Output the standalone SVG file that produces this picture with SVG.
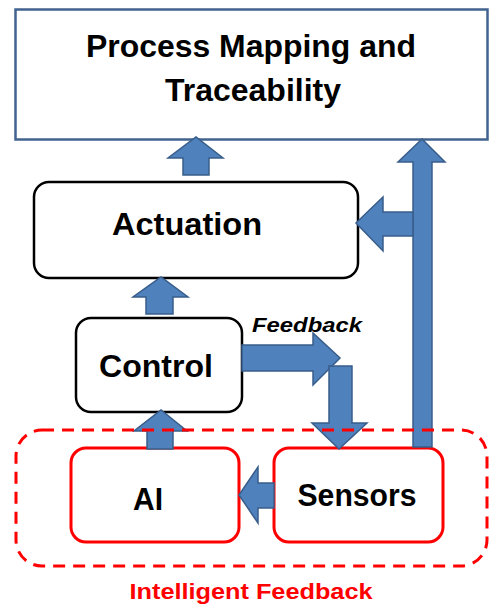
<svg xmlns="http://www.w3.org/2000/svg" width="489" height="608" viewBox="0 0 489 608">
<style>
text{font-family:"Liberation Sans",Arial,sans-serif;font-weight:bold;text-anchor:middle}
.t{font-size:31px;fill:#000}
.blk{fill:#fff;stroke:#000;stroke-width:2.5}
.red{fill:#fff;stroke:#ff0000;stroke-width:3}
.arr{fill:#4f81bd;stroke:#385d8a;stroke-width:1.5;stroke-linejoin:miter}
</style>
<rect width="489" height="608" fill="#fff"/>
<g id="process">
<rect x="15.5" y="9.5" width="472" height="130" fill="#fff" stroke="#41638f" stroke-width="2.5"/>
<text class="t" x="251" y="57" textLength="330" lengthAdjust="spacingAndGlyphs">Process Mapping and</text>
<text class="t" x="253" y="101" textLength="176" lengthAdjust="spacingAndGlyphs">Traceability</text>
</g>
<g id="actuation">
<rect class="blk" x="34" y="182" width="324" height="96" rx="15"/>
<text class="t" x="187" y="235" textLength="150" lengthAdjust="spacingAndGlyphs">Actuation</text>
</g>
<g id="control">
<rect class="blk" x="76" y="318" width="166" height="94" rx="15"/>
<text class="t" x="156" y="377" textLength="114" lengthAdjust="spacingAndGlyphs">Control</text>
</g>
<g id="ai">
<rect class="red" x="71" y="448" width="168" height="94" rx="15"/>
<text class="t" x="148" y="510" textLength="30" lengthAdjust="spacingAndGlyphs">AI</text>
</g>
<g id="sensors">
<rect class="red" x="274" y="448" width="169" height="94" rx="15"/>
<text class="t" x="357" y="506" textLength="119" lengthAdjust="spacingAndGlyphs">Sensors</text>
</g>
<g id="connectors">
<polygon class="arr" points="183,175 183,158 168,158 196,137 223,158 209,158 209,175"/>
<polygon class="arr" points="413,447 413,162 398,162 422,139 445,162 432,162 432,447"/>
<polygon class="arr" points="413,212 383,212 383,197 356,223 383,251 383,236 413,236"/>
<polygon class="arr" points="146,314 146,297 133,297 161,277 188,297 173,297 173,314"/>
<polygon class="arr" points="242,345 313,345 313,333 340,358 313,385 313,371 242,371"/>
<polygon class="arr" points="329,366 352,366 352,423 367,423 339,449 312,423 329,423"/>
<polygon class="arr" points="147,449 147,431 134,431 161,410 187,431 173,431 173,449"/>
<polygon class="arr" points="274,483 258,483 258,467 239,495 258,523 258,508 274,508"/>
<text x="307" y="332" font-size="20" font-style="italic" fill="#000" textLength="110" lengthAdjust="spacingAndGlyphs">Feedback</text>
</g>
<g id="feedback-group">
<rect x="16" y="430" width="471" height="136" rx="26" fill="none" stroke="#ff0000" stroke-width="3" stroke-dasharray="12,8"/>
<text x="251" y="599" font-size="22" fill="#ff0000" textLength="243" lengthAdjust="spacingAndGlyphs">Intelligent Feedback</text>
</g>
</svg>
